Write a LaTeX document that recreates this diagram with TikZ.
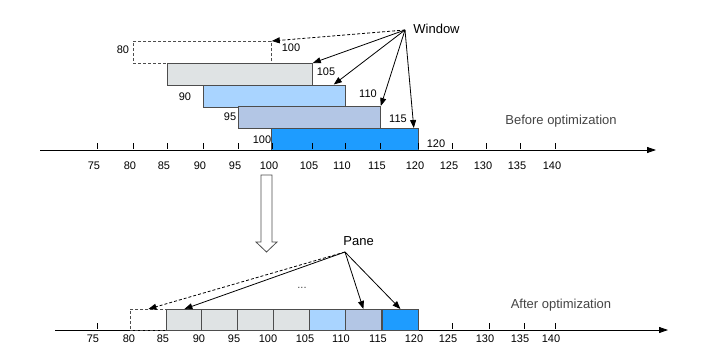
\documentclass[tikz,border=0pt]{standalone}
\usepackage{fontspec}
\setmainfont{Liberation Sans}
\usetikzlibrary{arrows.meta,calc}

\definecolor{boxline}{HTML}{4D4D4D}
\definecolor{paneGray}{HTML}{DFE3E4}
\definecolor{paneLight}{HTML}{A9D4FF}
\definecolor{paneLav}{HTML}{B3C6E5}
\definecolor{paneBlue}{HTML}{1E9CFF}
\definecolor{capgray}{HTML}{444444}

\begin{document}
\begin{tikzpicture}[x=1pt,y=-1pt,line width=0.8pt,font=\fontsize{11}{13}\selectfont]
 \tikzset{win box/.style={
    draw=boxline, fill=#1,
    minimum height=22pt,
    anchor=north west,
    inner sep=0pt
  },
  win box/.default=white,
  pane box/.style={
    draw=boxline, fill=#1,
    minimum width=36pt, minimum height=21pt,
    anchor=north west,
    inner sep=0pt
  },
  pane box/.default=white,
  num/.style={inner sep=1pt},
  caption/.style={inner sep=1pt, font=\fontsize{13}{15}\selectfont},
  ptr/.style={-{Triangle[length=8pt,width=6pt]}},
  axis/.style={-{Triangle[length=9pt,width=6pt]}},
  cut/.style={dash pattern=on 3pt off 2pt}
}
\useasboundingbox (0,0) rectangle (702,362);

% before
\node[win box, cut, minimum width=138pt] (w80) at (133,41) {};
\node[win box=paneGray, minimum width=145pt] (w85) at (167,63) {};
\node[win box=paneLight, minimum width=142pt] (w90) at (203,84.5) {};
\node[win box=paneLav, minimum width=142pt] (w95) at (238,106) {};
\node[win box=paneBlue, minimum width=147pt] (w100) at (271,128) {};

\node[num] (l80) at (123,50) {80};
\node[num] (r100) at (291,47.5) {100};
\node[num] (r105) at (326,72) {105};
\node[num] (l90) at (185,97) {90};
\node[num] (r110) at (368,94) {110};
\node[num] (l95) at (230,117) {95};
\node[num] (r115) at (398,119) {115};
\node[num] (l100) at (262,140) {100};
\node[num] (r120) at (436,144) {120};

\draw[axis] (40,150) -- (656,150);
\foreach \v/\x in {75/97,80/133,85/167,90/203,95/238,100/272,105/312,110/345,115/380,120/418,125/452,130/486,135/520,140/555}
{
  \draw (\x,143) -- (\x,149);
  \node[num] (ta\v) at (\x-3,166) {\v};
}

\coordinate (wtail) at (405,30);
\node[caption, anchor=west] (window) at (412,29) {Window};
\draw[ptr, cut] (wtail) -- (w80.north east);
\draw[ptr] (wtail) -- (w85.north east);
\draw[ptr] (wtail) -- ($(w90.north east)+(-12,0)$);
\draw[ptr] (wtail) -- (w95.north east);
\draw[ptr] (wtail) -- ($(w100.north east)+(-5,0)$);

\node[caption, text=capgray] (before) at (561,121) {Before optimization};

% big arrow
\draw[boxline, fill=white] (261,175) -- (272,175) -- (272,242) -- (277,242)
  -- (266.5,252) -- (256,242) -- (261,242) -- cycle;

% after
\draw[axis] (55,330) -- (668,330);
\foreach \v/\x in {75/97,80/133,85/167,90/203,95/238,100/272,105/309,110/345,115/382,120/418,125/452,130/489,135/524,140/555}
{
  \draw (\x,323) -- (\x,329);
  \node[num] (tb\v) at (\x-4,339) {\v};
}

\node[pane box, cut] (p1) at (130,309) {};
\foreach \i/\x/\c in {2/166/paneGray,3/201/paneGray,4/237/paneGray,5/273/paneGray,6/309/paneLight,7/345/paneLav,8/382/paneBlue}
  \node[pane box=\c] (p\i) at (\x,309) {};

\node[num, text=capgray] (dots) at (302,288) {...};

\coordinate (ptail) at (345,252);
\node[caption, anchor=south west] (pane) at (342,247) {Pane};
\draw[ptr, cut] (ptail) -- (p1.north);
\draw[ptr] (ptail) -- (p2.north);
\draw[ptr] (ptail) -- (p7.north);
\draw[ptr] (ptail) -- (p8.north);

\node[caption, text=capgray] (after) at (561,305) {After optimization};
\end{tikzpicture}
\end{document}
